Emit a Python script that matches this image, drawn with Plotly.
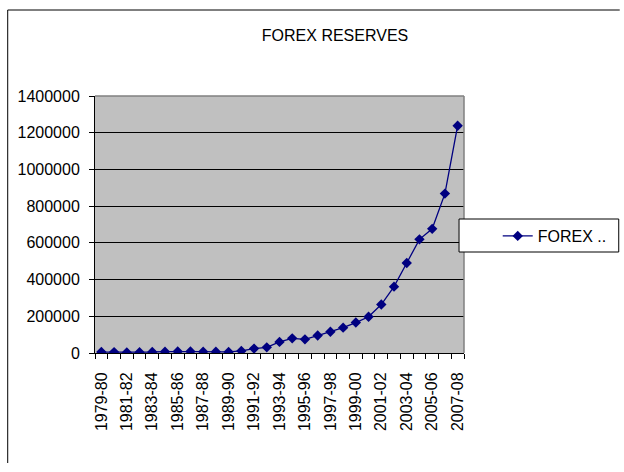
import plotly.graph_objects as go

years = ["1979-80", "1980-81", "1981-82", "1982-83", "1983-84", "1984-85", "1985-86",
         "1986-87", "1987-88", "1988-89", "1989-90", "1990-91", "1991-92", "1992-93",
         "1993-94", "1994-95", "1995-96", "1996-97", "1997-98", "1998-99", "1999-00",
         "2000-01", "2001-02", "2002-03", "2003-04", "2004-05", "2005-06", "2006-07",
         "2007-08"]
forex = [5164, 4822, 3354, 4265, 5498, 7243, 8151, 8151, 7287, 6605, 5787, 11416,
         23850, 30745, 60420, 79781, 74384, 94932, 115905, 138005, 165913, 197204,
         264036, 361470, 490129, 619116, 676387, 868222, 1237965]
y_ticks = [0, 200000, 400000, 600000, 800000, 1000000, 1200000, 1400000]
x_ticktext = [y if i % 2 == 0 else "" for i, y in enumerate(years)]

W, H = 624, 472
L, R, T, B = 95, 467, 96, 353

def px(x):
    return (x - L) / (R - L)

def py(y):
    return (B - y) / (B - T)

FONT = "Arial, Liberation Sans, sans-serif"
NAVY = "#000080"

fig = go.Figure()
fig.add_trace(go.Scatter(
    x=years, y=forex, mode="lines+markers", name="FOREX ..",
    line=dict(color=NAVY, width=1.3),
    marker=dict(symbol="diamond", size=8, color=NAVY),
))

fig.update_layout(
    width=W, height=H,
    margin=dict(l=L, r=W - R, t=T, b=H - B, pad=0),
    paper_bgcolor="white",
    plot_bgcolor="#C0C0C0",
    font=dict(family=FONT, size=16, color="black"),
    title=dict(text="FOREX RESERVES", x=px(337), xref="paper", xanchor="center",
               y=1 - 35 / H, yanchor="middle", font=dict(size=16, family=FONT)),
    showlegend=True,
    legend=dict(x=px(501), y=py(236), xanchor="left", yanchor="middle",
                bgcolor="rgba(0,0,0,0)", borderwidth=0,
                font=dict(size=16, family=FONT)),
    xaxis=dict(
        type="category", range=[-0.5, len(years) - 0.5],
        tickmode="array", tickvals=years, ticktext=x_ticktext,
        tickangle=-90, tickson="boundaries", ticks="outside", ticklen=5,
        tickcolor="black", showline=True, linecolor="black", linewidth=1,
        showgrid=False, zeroline=False, ticklabelstandoff=12,
        tickfont=dict(size=16, family=FONT),
    ),
    yaxis=dict(
        range=[0, 1400000], tickmode="array", tickvals=y_ticks,
        ticktext=[str(v) for v in y_ticks], ticks="outside", ticklen=5,
        tickcolor="black", showline=True, linecolor="black", linewidth=1,
        showgrid=True, gridcolor="black", gridwidth=1, zeroline=False,
        ticklabelstandoff=6, tickfont=dict(size=16, family=FONT),
    ),
    shapes=[
        # plot area top/right border
        dict(type="line", xref="paper", yref="paper", x0=0, x1=1, y0=1, y1=1,
             line=dict(color="#808080", width=1.5), layer="above"),
        dict(type="line", xref="paper", yref="paper", x0=1, x1=1, y0=0, y1=1,
             line=dict(color="#808080", width=1.5), layer="above"),
        # outer chart border
        dict(type="line", xref="paper", yref="paper", x0=px(7), x1=px(7),
             y0=py(463), y1=py(10), line=dict(color="black", width=1)),
        dict(type="line", xref="paper", yref="paper", x0=px(7), x1=px(624),
             y0=py(10), y1=py(10), line=dict(color="black", width=1)),
        # legend box
        dict(type="rect", xref="paper", yref="paper", x0=px(462), x1=px(623),
             y0=py(252), y1=py(219), line=dict(color="black", width=1),
             fillcolor="white", layer="above"),
    ],
)

fig.write_html("out.html", config={"displayModeBar": False},
               post_script="document.body.style.margin='0';document.body.style.overflow='hidden';")
